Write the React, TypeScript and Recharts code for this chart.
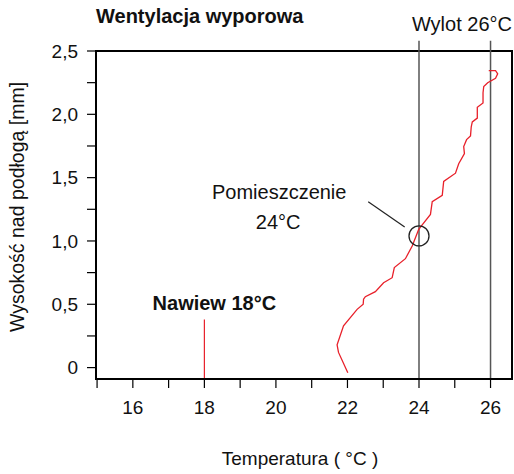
import {
  Label,
  Line,
  LineChart,
  ReferenceArea,
  ReferenceDot,
  ReferenceLine,
  XAxis,
  YAxis,
} from "recharts";

document.body.style.margin = "0";

// room temperature profile, read bottom -> top
const temps = [
  22.01, 21.75, 21.71, 21.89, 22.27, 22.44, 22.45, 22.5, 22.78, 23.01, 23.25, 23.31, 23.62,
  23.81, 23.99, 24.04, 24.32, 24.37, 24.65, 24.69, 25.02, 25.11, 25.27, 25.25, 25.33, 25.44,
  25.46, 25.49, 25.63, 25.63, 25.79, 25.79, 25.81, 25.92, 26.14, 26.2, 26.14, 25.95,
];
const heights = [
  -0.04, 0.12, 0.18, 0.33, 0.46, 0.5, 0.54, 0.56, 0.6, 0.67, 0.71, 0.79, 0.86, 0.96, 1.09,
  1.11, 1.21, 1.31, 1.36, 1.47, 1.535, 1.61, 1.69, 1.745, 1.8, 1.83, 1.9, 1.94, 1.97, 2.056,
  2.09, 2.17, 2.22, 2.25, 2.285, 2.32, 2.345, 2.345,
];

const xTicks = [15, 16, 17, 18, 19, 20, 21, 22, 23, 24, 25, 26];
const yTicks = [0, 0.25, 0.5, 0.75, 1, 1.25, 1.5, 1.75, 2, 2.25, 2.5];
const xDomain: [number, number] = [14.97, 26.6];
const yDomain: [number, number] = [-0.09, 2.5];

const supplyTemp = 18;
const supplyTop = 0.38;
const roomTemp = 24;
const roomHeight = 1.04;
const exhaustTemp = 26;
const lineTop = 2.58;

const data = temps.map((t, i) => ({ t, h: heights[i] }));

const font = "Arial, 'Liberation Sans', Helvetica, sans-serif";

function formatY(v: number) {
  if (v === 0) return "0";
  if (Math.abs(v * 2 - Math.round(v * 2)) > 1e-6) return "";
  return v.toFixed(1).replace(".", ",");
}

function formatX(v: number) {
  return v % 2 === 0 ? String(v) : "";
}

export default function App() {
  return (
    <div style={{ width: 514, height: 474, background: "#fff", fontFamily: font }}>
      <LineChart
        width={514}
        height={474}
        data={data}
        margin={{ top: 51, right: 2, left: 0, bottom: 0 }}
      >
        <XAxis
          type="number"
          dataKey="t"
          domain={xDomain}
          ticks={xTicks}
          tickFormatter={formatX}
          interval={0}
          allowDataOverflow
          height={95}
          tickSize={9}
          tickMargin={13}
          axisLine={{ stroke: "#000", strokeWidth: 2 }}
          tickLine={{ stroke: "#000", strokeWidth: 1.2 }}
          tick={{ fill: "#111", fontSize: 19, fontFamily: font }}
        >
          <Label
            content={({ viewBox }: any) => (
              <text
                x={viewBox.x + viewBox.width / 2 - 4}
                y={465}
                textAnchor="middle"
                fontSize={19}
                fontFamily={font}
                fill="#111"
              >
                Temperatura ( °C )
              </text>
            )}
          />
        </XAxis>
        <YAxis
          type="number"
          dataKey="h"
          domain={yDomain}
          ticks={yTicks}
          tickFormatter={formatY}
          interval={0}
          allowDataOverflow
          width={96}
          tickSize={9}
          tickMargin={9}
          axisLine={{ stroke: "#000", strokeWidth: 2 }}
          tickLine={{ stroke: "#000", strokeWidth: 1.2 }}
          tick={{ fill: "#111", fontSize: 19, fontFamily: font }}
        >
          <Label
            content={() => (
              <text
                x={17}
                y={207}
                transform="rotate(-90, 17, 207)"
                textAnchor="middle"
                dominantBaseline="central"
                fontSize={19.5}
                fontFamily={font}
                fill="#111"
              >
                Wysokość nad podłogą [mm]
              </text>
            )}
          />
        </YAxis>

        <ReferenceArea
          x1={xDomain[0]}
          x2={xDomain[1]}
          y1={yDomain[0]}
          y2={yDomain[1]}
          fill="none"
          stroke="#000"
          strokeWidth={2}
          label={{
            content: ({ viewBox }: any) => (
              <text
                x={viewBox.x}
                y={viewBox.y - 28}
                fontSize={20}
                fontWeight="bold"
                fontFamily={font}
                fill="#111"
              >
                Wentylacja wyporowa
              </text>
            ),
          }}
        />

        <ReferenceLine
          segment={[
            { x: roomTemp, y: yDomain[0] },
            { x: roomTemp, y: lineTop },
          ]}
          ifOverflow="visible"
          stroke="#555"
          strokeWidth={1.5}
        />
        <ReferenceLine
          segment={[
            { x: exhaustTemp, y: yDomain[0] },
            { x: exhaustTemp, y: lineTop },
          ]}
          ifOverflow="visible"
          stroke="#555"
          strokeWidth={1.5}
          label={{
            content: ({ viewBox }: any) => (
              <text
                x={512}
                y={viewBox.y - 10}
                textAnchor="end"
                fontSize={20}
                fontFamily={font}
                fill="#111"
              >
                Wylot 26°C
              </text>
            ),
          }}
        />
        <ReferenceLine
          segment={[
            { x: supplyTemp, y: yDomain[0] },
            { x: supplyTemp, y: supplyTop },
          ]}
          stroke="#e8202a"
          strokeWidth={1.2}
          label={{
            content: ({ viewBox }: any) => (
              <text
                x={viewBox.x + 10}
                y={viewBox.y - 9}
                textAnchor="middle"
                fontSize={20}
                fontWeight="bold"
                fontFamily={font}
                fill="#111"
              >
                Nawiew 18°C
              </text>
            ),
          }}
        />
        <ReferenceLine
          segment={[
            { x: 22.58, y: 1.31 },
            { x: 23.6, y: 1.11 },
          ]}
          stroke="#222"
          strokeWidth={1.2}
          label={{
            content: ({ viewBox }: any) => (
              <g fontSize={20} fontFamily={font} fill="#111" textAnchor="middle">
                <text x={viewBox.x - 89} y={199}>
                  Pomieszczenie
                </text>
                <text x={viewBox.x - 90} y={229}>
                  24°C
                </text>
              </g>
            ),
          }}
        />

        <Line
          type="linear"
          dataKey="h"
          stroke="#e8202a"
          strokeWidth={1.3}
          dot={false}
          activeDot={false}
          isAnimationActive={false}
        />

        <ReferenceDot
          x={roomTemp}
          y={roomHeight}
          r={10}
          fill="none"
          stroke="#222"
          strokeWidth={1.3}
        />
      </LineChart>
    </div>
  );
}
